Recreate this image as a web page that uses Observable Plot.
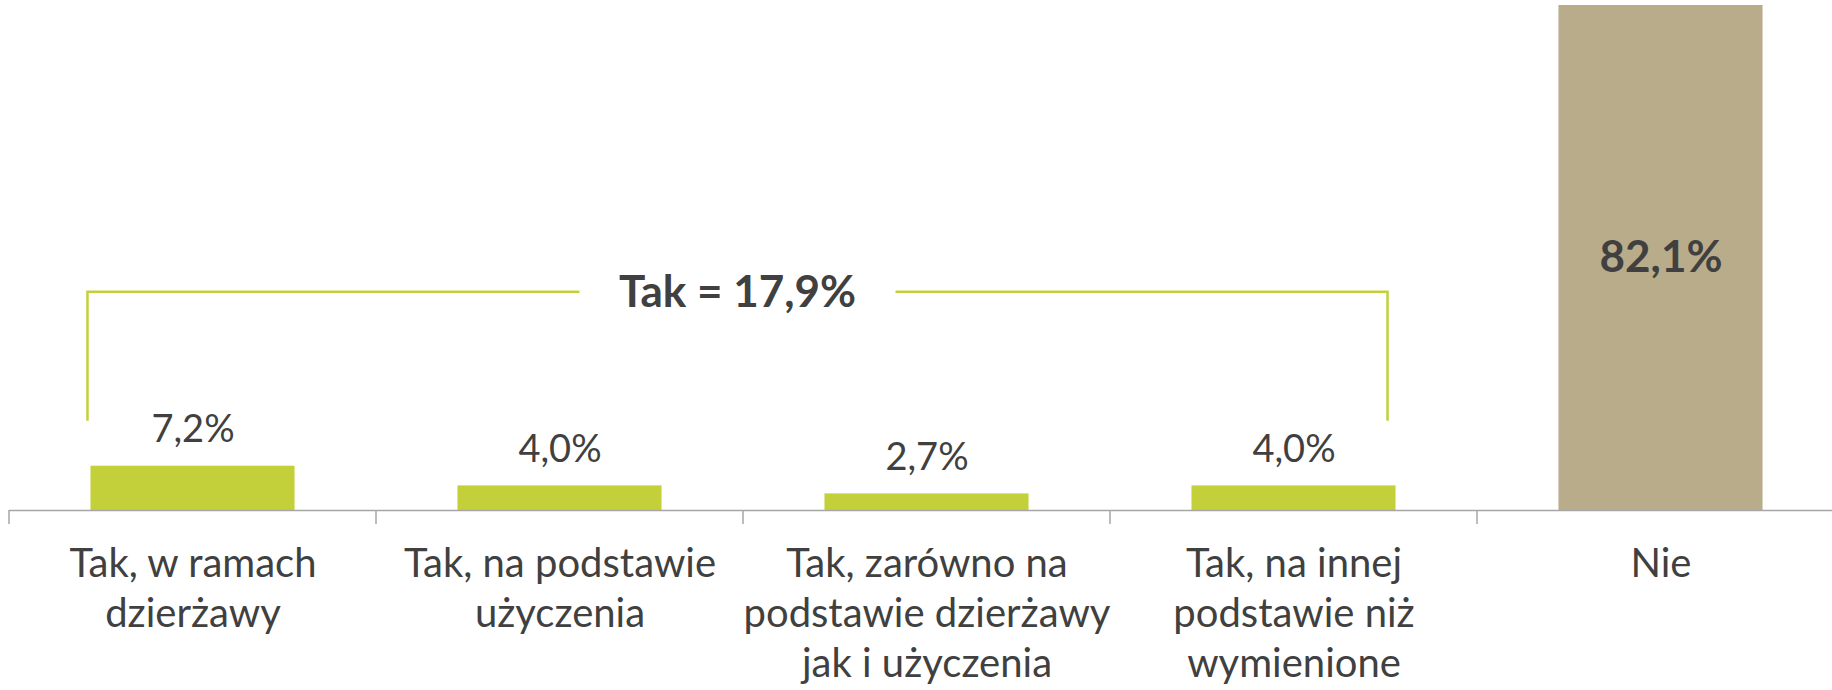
<!DOCTYPE html>
<html><head><meta charset="utf-8">
<script src="https://cdn.jsdelivr.net/npm/d3@7"></script>
<script src="https://cdn.jsdelivr.net/npm/@observablehq/plot@0.6"></script>
<style>
html,body{margin:0;padding:0;background:#fff;}
#chart{width:1832px;height:690px;overflow:hidden;}
</style></head><body><div id="chart"></div>
<script>
const categories = [
  "Tak, w ramach\ndzierżawy",
  "Tak, na podstawie\nużyczenia",
  "Tak, zarówno na\npodstawie dzierżawy\njak i użyczenia",
  "Tak, na innej\npodstawie niż\nwymienione",
  "Nie"
];
const values = [7.2, 4.0, 2.7, 4.0, 82.1];
const valueLabels = ["7,2%", "4,0%", "2,7%", "4,0%", "82,1%"];
const groups = ["Tak", "Tak", "Tak", "Tak", "Nie"];
const totalLabel = "Tak = 17,9%";

const rows = categories.map((c, i) => ({cat: c, value: values[i], label: valueLabels[i], group: groups[i]}));

const FONT = "Lato, 'Open Sans', 'Noto Sans', sans-serif";
const TEXT = "#404040";
const AXIS = "#a6a6a6";
const GREEN = "#c3d03a";
// annotation bracket levels, in value units
const BRACKET_TOP = 35.5, BRACKET_BOTTOM = 14.5;

const bracket = (index, scales) => {
  const x = scales.x, y = scales.y;
  const bw = x.bandwidth(), step = x.step();
  const gap = (step - bw) / 2;
  const g = d3.create("svg:g");
  const y0 = y(0);
  const bounds = categories.map(c => x(c) - gap).concat([x(categories[categories.length - 1]) + bw + gap]);
  g.selectAll("line").data(bounds).join("line")
    .attr("x1", d => d).attr("x2", d => d)
    .attr("y1", y0).attr("y2", y0 + 14)
    .attr("stroke", AXIS).attr("stroke-width", 1.5);
  const tak = categories.filter((c, i) => groups[i] === "Tak");
  const xl = x(tak[0]) - 3;
  const xr = x(tak[tak.length - 1]) + bw - 8;
  const yt = y(BRACKET_TOP), yb = y(BRACKET_BOTTOM);
  const xm = (xl + xr) / 2;
  const half = 158;
  g.append("path")
    .attr("d", `M${xl},${yb}V${yt}H${xm - half}M${xm + half},${yt}H${xr}V${yb}`)
    .attr("fill", "none").attr("stroke", GREEN).attr("stroke-width", 2.5);
  g.append("text")
    .attr("x", xm).attr("y", yt).attr("dy", "0.36em")
    .attr("text-anchor", "middle")
    .attr("font-family", FONT).attr("font-weight", "bold").attr("font-size", 44)
    .attr("fill", TEXT)
    .text(totalLabel);
  return g.node();
};

const plot = Plot.plot({
  width: 1832, height: 690,
  marginTop: 5, marginBottom: 180, marginLeft: 9, marginRight: 0,
  style: {fontFamily: FONT, background: "#fff", color: TEXT, overflow: "visible"},
  x: {domain: categories, range: [9, 1844], paddingInner: 0.444, paddingOuter: 0.222, round: false, axis: null},
  y: {domain: [0, 82.1], axis: null},
  color: {domain: ["Tak", "Nie"], range: [GREEN, "#b9ac8b"]},
  marks: [
    Plot.barY(rows, {x: "cat", y: "value", fill: "group"}),
    Plot.ruleY([0], {stroke: AXIS, strokeWidth: 1.5}),
    Plot.text(rows.filter(d => d.group === "Tak"), {x: "cat", y: "value", text: "label", dy: -36, fontSize: 38, fill: TEXT}),
    Plot.text(rows.filter(d => d.group === "Nie"), {x: "cat", y: d => d.value / 2, text: "label", fontSize: 44, fontWeight: "bold", fill: TEXT}),
    Plot.text(rows, {x: "cat", y: () => 0, text: "cat", lineAnchor: "top", dy: 31, fontSize: 40, lineHeight: 1.25, fill: TEXT}),
    bracket
  ]
});
document.getElementById("chart").appendChild(plot);
</script></body></html>
